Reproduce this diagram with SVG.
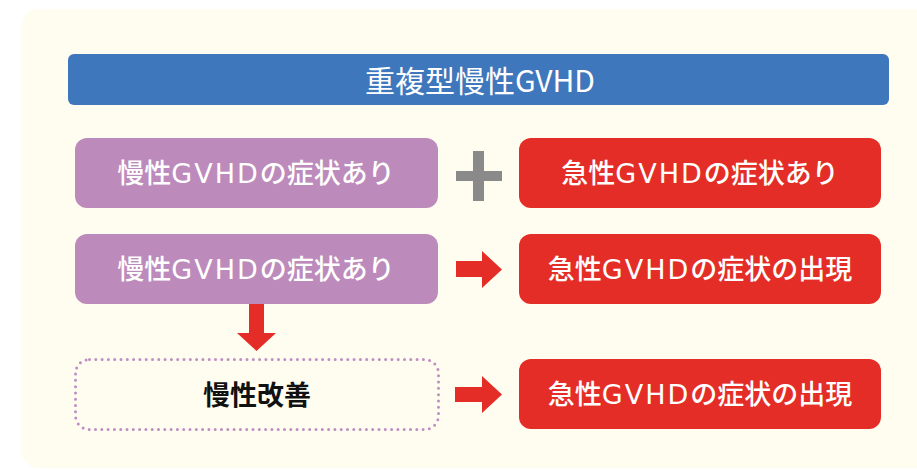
<svg xmlns="http://www.w3.org/2000/svg" width="917" height="470" viewBox="0 0 917 470">
  <defs>
    <style>
      .t { font-family: "Noto Sans CJK JP", sans-serif; text-anchor: middle; }
      .box-text { fill: #ffffff; font-size: 27px; font-weight: 500; }
      .lat { font-family: "DejaVu Sans", "Noto Sans CJK JP", sans-serif; font-size: 27px; font-weight: 400; letter-spacing: 2px; }
      .purple { fill: #bc8bbb; }
      .red { fill: #e52d27; }
      .arrow { fill: #e52d27; }
    </style>
  </defs>
  <rect x="0" y="0" width="917" height="470" fill="#ffffff"/>
  <rect x="22" y="9" width="915" height="459" rx="16" fill="#fffcf0"/>

  <g id="title">
    <rect x="68" y="54" width="821" height="51" rx="6" fill="#3f77bc"/>
    <text class="t" x="480" y="92" font-size="30" fill="#ffffff">重複型慢性GVHD</text>
  </g>

  <g id="chronic1">
    <rect class="purple" x="75" y="138" width="363" height="70" rx="12"/>
    <text class="t box-text" x="256" y="183">慢性<tspan class="lat">GVHD</tspan>の症状あり</text>
  </g>
  <g id="acute1">
    <rect class="red" x="519" y="138" width="362" height="70" rx="12"/>
    <text class="t box-text" x="700" y="183">急性<tspan class="lat">GVHD</tspan>の症状あり</text>
  </g>
  <g id="chronic2">
    <rect class="purple" x="75" y="234" width="363" height="70" rx="12"/>
    <text class="t box-text" x="256" y="279">慢性<tspan class="lat">GVHD</tspan>の症状あり</text>
  </g>
  <g id="acute2">
    <rect class="red" x="519" y="234" width="362" height="70" rx="12"/>
    <text class="t box-text" x="700" y="279">急性<tspan class="lat">GVHD</tspan>の症状の出現</text>
  </g>
  <g id="improve">
    <rect x="75.5" y="359.5" width="363" height="70" rx="14" fill="none" stroke="#bf8ec3" stroke-width="3" stroke-linecap="round" stroke-dasharray="0 6.3"/>
    <text class="t" x="257" y="405" font-size="27" font-weight="bold" fill="#111111">慢性改善</text>
  </g>
  <g id="acute3">
    <rect class="red" x="519" y="359" width="362" height="70" rx="12"/>
    <text class="t box-text" x="700" y="404">急性<tspan class="lat">GVHD</tspan>の症状の出現</text>
  </g>

  <g id="connectors">
    <path d="M456 171 H473 V151 H484 V171 H502 V181 H484 V201 H473 V181 H456 Z" fill="#8a8a8a"/>
    <path class="arrow" d="M456 261 H482 V251 L502 269.5 L482 288 V277 H456 Z"/>
    <path class="arrow" d="M249 304 H264 V333 H276 L256.5 351 L237 333 H249 Z"/>
    <path class="arrow" d="M455 387 H482 V376 L502 394.5 L482 413 V402 H455 Z"/>
  </g>
</svg>
